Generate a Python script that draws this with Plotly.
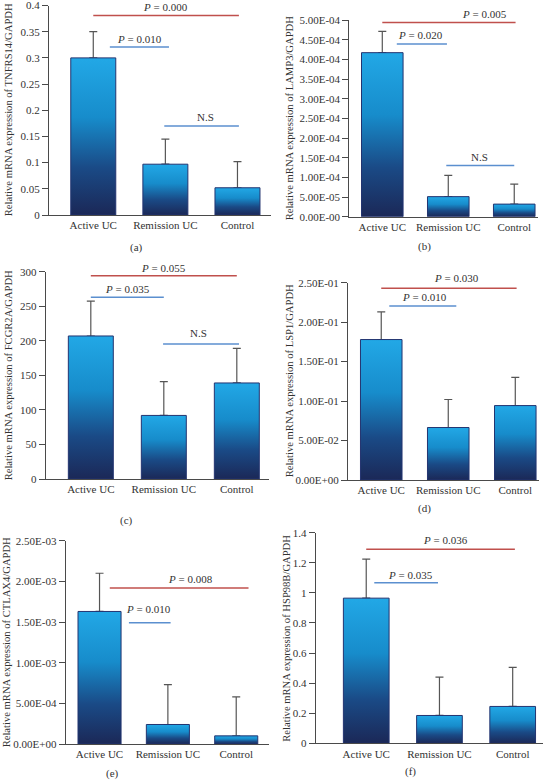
import plotly.graph_objects as go

W, H = 548, 781

categories = ["Active UC", "Remission UC", "Control"]

# (a) TNFRS14
tnfrs14_mean = [0.300, 0.097, 0.052]
tnfrs14_sd = [0.050, 0.048, 0.050]
# (b) LAMP3
lamp3_mean = [4.17e-4, 5.1e-5, 3.2e-5]
lamp3_sd = [5.4e-5, 5.4e-5, 5.1e-5]
# (c) FCGR2A
fcgr2a_mean = [207, 92, 139]
fcgr2a_sd = [50.5, 49, 50]
# (d) LSP1
lsp1_mean = [0.178, 0.0665, 0.0943]
lsp1_sd = [0.035, 0.0355, 0.0357]
# (e) CTLAX4
ctlax4_mean = [1.63e-3, 2.4e-4, 1.0e-4]
ctlax4_sd = [4.7e-4, 4.9e-4, 4.8e-4]
# (f) HSP90B
hsp90b_mean = [0.965, 0.185, 0.245]
hsp90b_sd = [0.26, 0.255, 0.26]

# tick values / labels
ticks_a = [0, 0.05, 0.1, 0.15, 0.2, 0.25, 0.3, 0.35, 0.4]
labels_a = ["0", "0.05", "0.1", "0.15", "0.2", "0.25", "0.3", "0.35", "0.4"]
ticks_b = [i * 5e-5 for i in range(11)]
labels_b = ["0.00E-00", "5.00E-05", "1.00E-04", "1.50E-04", "2.00E-04", "2.50E-04",
            "3.00E-04", "3.50E-04", "4.00E-04", "4.50E-04", "5.00E-04"]
ticks_c = [0, 50, 100, 150, 200, 250, 300]
labels_c = ["0", "50", "100", "150", "200", "250", "300"]
ticks_d = [0, 0.05, 0.1, 0.15, 0.2, 0.25]
labels_d = ["0.00E+00", "5.00E-02", "1.00E-01", "1.50E-01", "2.00E-01", "2.50E-01"]
ticks_e = [0, 5e-4, 1e-3, 1.5e-3, 2e-3, 2.5e-3]
labels_e = ["0.00E+00", "5.00E-04", "1.00E-03", "1.50E-03", "2.00E-03", "2.50E-03"]
ticks_f = [0, 0.2, 0.4, 0.6, 0.8, 1.0, 1.2, 1.4]
labels_f = ["0", "0.2", "0.4", "0.6", "0.8", "1", "1.2", "1.4"]

titles = [
    "Relative mRNA expression of TNFRS14/GAPDH",
    "Relative mRNA expression of LAMP3/GAPDH",
    "Relative mRNA expression of FCGR2A/GAPDH",
    "Relative mRNA expression of LSP1/GAPDH",
    "Relative mRNA expression of CTLAX4/GAPDH",
    "Relative mRNA expression of HSP98B/GAPDH",
]
panel_tags = ["(a)", "(b)", "(c)", "(d)", "(e)", "(f)"]

# significance bars: (x0, x1, y, text, text_x, text_y, kind)
sig_a = [(0, 2.02, 0.381, "<i>P</i> = 0.000", 1.0, 0.3965, "red"),
         (0.23, 1.05, 0.3206, "<i>P</i> = 0.010", 0.64, 0.3366, "blue"),
         (0.985, 2.02, 0.170, "N.S", 1.55, 0.187, "blue")]
sig_b = [(0, 2.02, 4.94e-4, "<i>P</i> = 0.005", 1.55, 5.15e-4, "red"),
         (0.22, 0.98, 4.39e-4, "<i>P</i> = 0.020", 0.58, 4.62e-4, "blue"),
         (0.97, 2.0, 1.30e-4, "N.S", 1.48, 1.51e-4, "blue")]
sig_c = [(0, 2.0, 294.2, "<i>P</i> = 0.055", 1.0, 306, "red"),
         (0.0, 1.0, 262.9, "<i>P</i> = 0.035", 0.5, 274.4, "blue"),
         (0.99, 2.03, 195.3, "N.S", 1.48, 212, "blue")]
sig_d = [(0, 2.02, 0.243, "<i>P</i> = 0.030", 1.13, 0.2555, "red"),
         (0.12, 1.12, 0.2204, "<i>P</i> = 0.010", 0.65, 0.232, "blue")]
sig_e = [(0.15, 2.18, 1.918e-3, "<i>P</i> = 0.008", 1.33, 2.03e-3, "red"),
         (0.43, 1.04, 1.49e-3, "<i>P</i> = 0.010", 0.72, 1.656e-3, "blue")]
sig_f = [(0, 2.03, 1.29, "<i>P</i> = 0.036", 1.08, 1.35, "red"),
         (0.11, 0.98, 1.068, "<i>P</i> = 0.035", 0.6, 1.12, "blue")]

# layout boxes in pixels: left, right, top, bottom, x-range, bar width, title x, tag (x, y)
boxes = [
    dict(l=49, r=271, t=5.5, b=215, xr=[-0.614, 2.465], bw=0.624, tx=8, tag=(136.7, 247.3)),
    dict(l=349.3, r=538, t=20, b=216.7, xr=[-0.5, 2.36], bw=0.63, tx=289, tag=(424, 246.7)),
    dict(l=45.7, r=269.3, t=271.7, b=479, xr=[-0.618, 2.445], bw=0.616, tx=8, tag=(126.7, 520.5)),
    dict(l=348, r=539, t=282.7, b=480, xr=[-0.496, 2.354], bw=0.62, tx=289, tag=(424, 508.3)),
    dict(l=65.7, r=269.3, t=540.7, b=744, xr=[-0.495, 2.484], bw=0.63, tx=6, tag=(112.7, 773.5)),
    dict(l=315.7, r=543.3, t=532.7, b=743.3, xr=[-0.69, 2.418], bw=0.624, tx=285.7, tag=(410, 771.5)),
]

means = [tnfrs14_mean, lamp3_mean, fcgr2a_mean, lsp1_mean, ctlax4_mean, hsp90b_mean]
sds = [tnfrs14_sd, lamp3_sd, fcgr2a_sd, lsp1_sd, ctlax4_sd, hsp90b_sd]
tickv = [ticks_a, ticks_b, ticks_c, ticks_d, ticks_e, ticks_f]
tickt = [labels_a, labels_b, labels_c, labels_d, labels_e, labels_f]
sigs = [sig_a, sig_b, sig_c, sig_d, sig_e, sig_f]

FONT = "Liberation Serif, 'Times New Roman', Times, serif"
TXT = "#333333"
AXC = "#4a4a4a"
RED = "#c0504d"
BLUE = "#5b8fcf"
OUTLINE = "#233470"
GRAD = [[0.0, "#1b2857"], [0.3, "#1a4a86"], [0.62, "#178ccb"], [1.0, "#22a8e6"]]

fig = go.Figure()
annotations = []
shapes = []

for i in range(6):
    k = "" if i == 0 else str(i + 1)
    xa, ya = "x" + k, "y" + k
    bx = boxes[i]
    m, s = means[i], sds[i]
    xs = list(range(len(categories)))
    ymax = tickv[i][-1]
    plot_h = bx["b"] - bx["t"]

    # bar trace (values + error bars)
    fig.add_trace(go.Bar(
        x=xs, y=m, width=bx["bw"], xaxis=xa, yaxis=ya,
        marker=dict(color="rgba(0,0,0,0)", line=dict(width=0)),
        error_y=dict(type="data", array=s, arrayminus=[0] * len(s), symmetric=False,
                     color="#555555", thickness=1.2, width=4),
        showlegend=False, hoverinfo="skip",
    ))
    # gradient fill for each bar, built from the same values
    hw = bx["bw"] / 2
    for j, v in enumerate(m):
        fig.add_trace(go.Scatter(
            x=[j - hw, j - hw, j + hw, j + hw, j - hw],
            y=[0, v, v, 0, 0],
            xaxis=xa, yaxis=ya, mode="lines", fill="toself",
            fillgradient=dict(type="vertical", colorscale=GRAD),
            line=dict(color=OUTLINE, width=1),
            showlegend=False, hoverinfo="skip",
        ))

    xdom = [bx["l"] / W, bx["r"] / W]
    ydom = [1 - bx["b"] / H, 1 - bx["t"] / H]
    fig.layout["xaxis" + k] = dict(
        domain=xdom, range=bx["xr"], anchor=ya, tickvals=xs, ticktext=categories,
        showline=True, linecolor=AXC, linewidth=1, ticks="", showgrid=False,
        zeroline=False, tickfont=dict(family=FONT, size=11, color=TXT), fixedrange=True,
        automargin=False,
    )
    fig.layout["yaxis" + k] = dict(
        domain=ydom, range=[0, ymax * 1.0001], anchor=xa, tickvals=tickv[i], ticktext=tickt[i],
        showline=True, linecolor=AXC, linewidth=1, ticks="outside", ticklen=6,
        tickcolor=AXC, showgrid=False, zeroline=False,
        tickfont=dict(family=FONT, size=11, color=TXT), fixedrange=True,
        automargin=False, ticklabeloverflow="allow",
    )

    for (x0, x1, yv, txt, txx, txy, kind) in sigs[i]:
        col = RED if kind == "red" else BLUE
        shapes.append(dict(type="line", xref=xa, yref=ya, x0=x0, x1=x1, y0=yv, y1=yv,
                           line=dict(color=col, width=1.5)))
        ypos, yshift = txy, 0
        if txy > ymax:  # keep the anchor inside the axis range, shift in pixels
            ypos = ymax
            yshift = (txy - ymax) / ymax * plot_h
        annotations.append(dict(text=txt, xref=xa, yref=ya, x=txx, y=ypos, yshift=yshift,
                                showarrow=False, xanchor="center", yanchor="middle",
                                font=dict(family=FONT, size=11, color=TXT)))

    # y-axis title
    annotations.append(dict(text=titles[i], xref="paper", yref="paper",
                            x=bx["tx"] / W, y=1 - (bx["t"] + bx["b"]) / 2 / H,
                            textangle=-90, showarrow=False, xanchor="center", yanchor="middle",
                            font=dict(family=FONT, size=10.6, color=TXT)))
    # panel tag
    annotations.append(dict(text=panel_tags[i], xref="paper", yref="paper",
                            x=bx["tag"][0] / W, y=1 - bx["tag"][1] / H, showarrow=False,
                            xanchor="center", yanchor="middle",
                            font=dict(family=FONT, size=11, color=TXT)))

fig.update_layout(
    width=W, height=H, margin=dict(l=0, r=0, t=0, b=0, autoexpand=False),
    paper_bgcolor="white", plot_bgcolor="white",
    showlegend=False, annotations=annotations, shapes=shapes,
    barmode="overlay",
)

fig.write_html(
    "out.html",
    config={"displayModeBar": False, "staticPlot": True},
    post_script="document.body.style.margin='0px';document.body.style.overflow='hidden';",
)
